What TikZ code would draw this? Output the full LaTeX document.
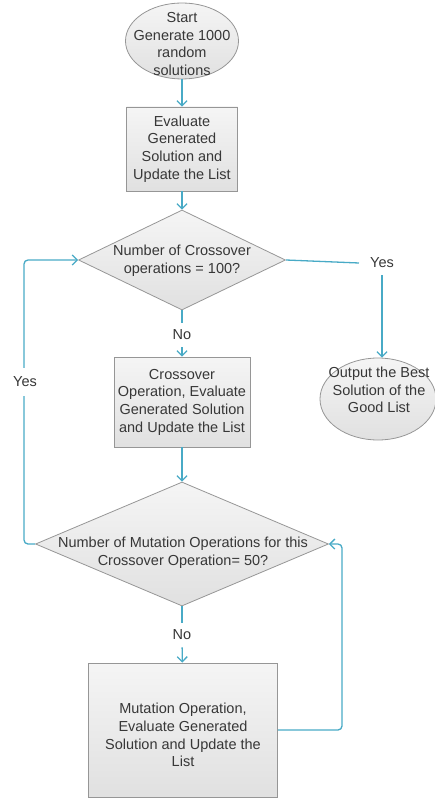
\documentclass[tikz,border=0pt]{standalone}
\usepackage{fontspec}
\setmainfont{Liberation Sans}
\usetikzlibrary{shapes.geometric,arrows.meta,calc}
\definecolor{conncol}{RGB}{72,170,198}
\definecolor{bordcol}{RGB}{150,150,150}
\definecolor{txtcol}{RGB}{55,55,55}
\begin{document}
\begin{tikzpicture}[x=1pt,y=-1pt,
  basefont/.style={font=\fontsize{14.5}{17.7}\selectfont, text=txtcol, align=center},
  shaded/.style={draw=bordcol, line width=0.8pt, top color=black!4, bottom color=black!12},
  boxn/.style={shaded, rectangle, inner sep=0pt},
  elln/.style={shaded, ellipse, inner sep=0pt},
  dian/.style={shaded, diamond, inner sep=0pt},
  lbl/.style={basefont, inner sep=0pt},
  tag/.style={basefont, inner xsep=11pt, inner ysep=7pt},
  conn/.style={draw=conncol, line width=1.3pt, rounded corners=4pt},
  arr/.style={conn, -{Straight Barb[length=5pt,width=10pt]}}
]
\useasboundingbox (0,0) rectangle (435,799);

% nodes
\node[elln, minimum width=113pt, minimum height=76pt] (e1) at (182,41) {};
\node[lbl] (e1t) at (182,44) {Start\\Generate 1000\\random\\solutions};

\node[boxn, minimum width=111pt, minimum height=84pt] (b1) at (182,149) {};
\node[lbl] (b1t) at (182,149) {Evaluate\\Generated\\Solution and\\Update the List};

\node[dian, minimum width=207pt, minimum height=100pt] (d1) at (182,260) {};
\node[lbl] (d1t) at (182,261) {Number of Crossover\\operations = 100?};

\node[tag] (yes1) at (382,263) {Yes};

\node[elln, minimum width=116pt, minimum height=82pt] (e2) at (378,399) {};
\node[lbl] (e2t) at (379,390) {Output the Best\\Solution of the\\Good List};

\node[tag] (no1) at (182,335) {No};

\node[boxn, minimum width=136pt, minimum height=90pt] (b2) at (182,402) {};
\node[lbl] (b2t) at (182,402) {Crossover\\Operation, Evaluate\\Generated Solution\\and Update the List};

\node[dian, minimum width=293pt, minimum height=124pt] (d2) at (182,544) {};
\node[lbl] (d2t) at (183,553) {Number of Mutation Operations for this\\Crossover Operation= 50?};

\node[tag] (no2) at (182,635) {No};

\node[boxn, minimum width=189pt, minimum height=134pt] (b3) at (183,730) {};
\node[lbl] (b3t) at (183,735) {Mutation Operation,\\Evaluate Generated\\Solution and Update the\\List};

\coordinate (lx) at (24,0);
\coordinate (rx) at (342,0);

% connectors
\draw[arr] (e1) -- (b1);
\draw[arr] (b1) -- (d1);
\draw[conn] (d1.south) -- (no1);
\draw[arr] (no1) -- (b2);
\draw[conn] (d1.east) -- (yes1.west);
\draw[arr] (yes1.south) -- (yes1.south |- e2.north);
\draw[arr] (b2) -- (d2);
\draw[conn] (d2.south) -- (no2);
\draw[arr] (no2) -- (b3);
\draw[arr] (b3.east) -- (b3.east -| rx) -- (d2.east -| rx) -- (d2.east);
\draw[arr] (d2.west) -- (d2.west -| lx) -- (d1.west -| lx) -- (d1.west);
\node[tag, fill=white, inner xsep=3pt, inner ysep=9pt] (yes2) at (25,382) {Yes};
\end{tikzpicture}
\end{document}
